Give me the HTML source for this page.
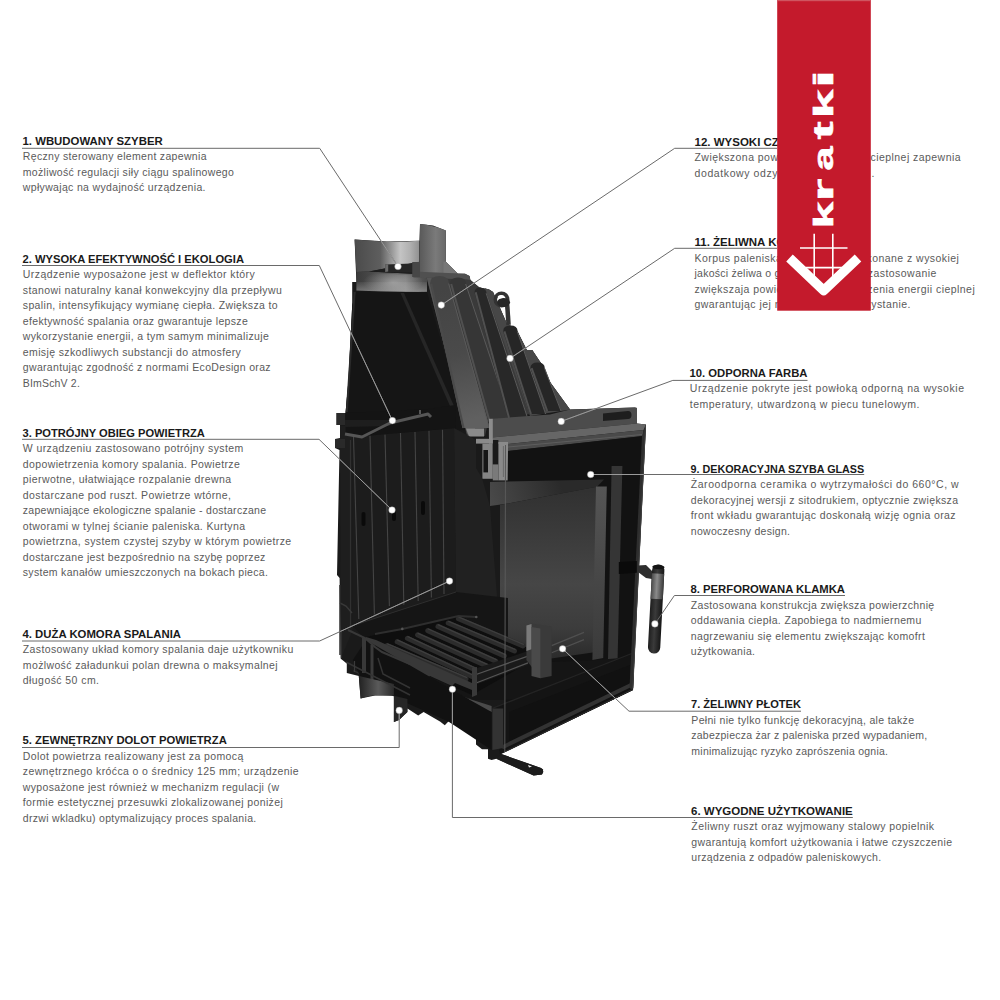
<!DOCTYPE html>
<html><head><meta charset="utf-8"><style>
html,body{margin:0;padding:0;background:#fff;width:1000px;height:1000px;overflow:hidden}
svg{display:block}
.h{font:bold 11.5px "Liberation Sans",sans-serif;fill:#1a1a1a}
.b{font:10.5px "Liberation Sans",sans-serif;fill:#5a5a5a}
.ln polyline{fill:none;stroke:#6a6a6a;stroke-width:1}
.ln2 polyline{fill:none;stroke:#9a9a9a;stroke-width:1}
.dt circle{fill:#fff;stroke:#888;stroke-width:0.4}
</style></head><body>
<svg width="1000" height="1000" viewBox="0 0 1000 1000">
<defs><linearGradient id="gCollar" x1="354" x2="420" y1="0" y2="0" gradientUnits="userSpaceOnUse"><stop offset="0" stop-color="#4a4a4a"/><stop offset="0.4" stop-color="#5e5e5e"/><stop offset="0.7" stop-color="#c4c4c4"/><stop offset="0.85" stop-color="#b0b0b0"/><stop offset="1" stop-color="#8e8e8e"/></linearGradient><linearGradient id="gBowl" x1="356" x2="427" y1="0" y2="0" gradientUnits="userSpaceOnUse"><stop offset="0" stop-color="#3a3a3a"/><stop offset="0.45" stop-color="#5a5a5a"/><stop offset="0.7" stop-color="#6e6e6e"/><stop offset="1" stop-color="#4a4a4a"/></linearGradient><radialGradient id="gBowlHi" cx="393" cy="282" r="30" gradientUnits="userSpaceOnUse" gradientTransform="translate(393 282) scale(1 0.4) translate(-393 -282)"><stop offset="0" stop-color="#fff" stop-opacity="0.35"/><stop offset="1" stop-color="#fff" stop-opacity="0"/></radialGradient><linearGradient id="gBowlRim" x1="0" x2="0" y1="280" y2="292" gradientUnits="userSpaceOnUse"><stop offset="0" stop-color="rgba(255,255,255,0)"/><stop offset="1" stop-color="rgba(255,255,255,0.3)"/></linearGradient><linearGradient id="gPlate" x1="420" x2="446" y1="0" y2="0" gradientUnits="userSpaceOnUse"><stop offset="0" stop-color="#5a5a5a"/><stop offset="0.6" stop-color="#7a7a7a"/><stop offset="1" stop-color="#686868"/></linearGradient><linearGradient id="gRibA" x1="440" x2="470" y1="290" y2="420" gradientUnits="userSpaceOnUse"><stop offset="0" stop-color="#444"/><stop offset="0.5" stop-color="#4a4a4a"/><stop offset="1" stop-color="#606060"/></linearGradient><linearGradient id="gBack" x1="0" x2="0" y1="486" y2="664" gradientUnits="userSpaceOnUse"><stop offset="0" stop-color="#303030"/><stop offset="0.55" stop-color="#464646"/><stop offset="0.8" stop-color="#3c3c3c"/><stop offset="1" stop-color="#282828"/></linearGradient><linearGradient id="gBackLo" x1="0" x2="0" y1="600" y2="664" gradientUnits="userSpaceOnUse"><stop offset="0" stop-color="#3a3a3a"/><stop offset="1" stop-color="#242424"/></linearGradient><linearGradient id="gBaffle" x1="490" x2="560" y1="506" y2="482" gradientUnits="userSpaceOnUse"><stop offset="0" stop-color="#4a4a4a"/><stop offset="1" stop-color="#2a2a2a"/></linearGradient><linearGradient id="gHandleH" x1="650" x2="662.3" y1="0" y2="0" gradientUnits="userSpaceOnUse"><stop offset="0" stop-color="#1e1e1e"/><stop offset="0.45" stop-color="#3a3a3a"/><stop offset="1" stop-color="#161616"/></linearGradient><linearGradient id="gHandleBandH" x1="650" x2="662.3" y1="0" y2="0" gradientUnits="userSpaceOnUse"><stop offset="0" stop-color="#4a4a4a"/><stop offset="0.45" stop-color="#8a8a8a"/><stop offset="1" stop-color="#3a3a3a"/></linearGradient><linearGradient id="gIntake" x1="359" x2="394" y1="0" y2="0" gradientUnits="userSpaceOnUse"><stop offset="0" stop-color="#222"/><stop offset="0.55" stop-color="#5a5a5a"/><stop offset="1" stop-color="#2a2a2a"/></linearGradient><linearGradient id="gCol1" x1="0" x2="0" y1="486" y2="660" gradientUnits="userSpaceOnUse"><stop offset="0" stop-color="#555"/><stop offset="1" stop-color="#3a3a3a"/></linearGradient><clipPath id="silclip"><path d="M354.6,239.6 L387.0,241.5 L419.4,240.8 L420.0,224.0 L433.0,225.5 L445.8,230.6 L445.8,261.8 L457.8,273.8 L465.0,273.8 L469.5,276.0 L470.4,280.0 L479.4,287.5 L489.0,289.5 L493.0,292.0 L507.0,324.0 L516.0,328.4 L526.8,350.0 L532.2,350.0 L539.4,360.8 L543.0,366.0 L550.0,382.0 L570.0,409.4 L634.8,407.6 L637.0,408.0 L637.0,423.5 L646.0,424.5 L633.0,690.0 L501.2,754.0 L541.0,768.0 L543.2,769.6 L542.0,774.4 L533.6,775.6 L496.4,758.8 L491.6,760.0 L488.0,758.8 L488.0,749.2 L482.0,749.2 L476.0,744.4 L476.0,734.8 L448.4,721.6 L444.8,725.2 L440.0,721.6 L423.6,712.0 L418.2,715.6 L407.4,708.4 L407.4,712.0 L399.0,720.0 L393.9,721.9 L393.9,695.8 L375.0,695.5 L360.6,698.5 L358.8,676.0 L346.8,673.0 L346.8,663.6 L340.8,658.8 L339.6,578.0 L337.0,575.0 L339.5,450.0 L335.0,448.0 L335.0,439.0 L340.0,438.0 L340.0,425.0 L336.5,425.0 L336.5,413.0 L345.5,413.0 L348.5,380.0 L352.2,305.0 L352.2,282.0 L356.4,282.0 Z"/></clipPath></defs>
<g id="fire"><path fill="#1a1a1a" d="M354.6,239.6 L387.0,241.5 L419.4,240.8 L420.0,224.0 L433.0,225.5 L445.8,230.6 L445.8,261.8 L457.8,273.8 L465.0,273.8 L469.5,276.0 L470.4,280.0 L479.4,287.5 L489.0,289.5 L493.0,292.0 L507.0,324.0 L516.0,328.4 L526.8,350.0 L532.2,350.0 L539.4,360.8 L543.0,366.0 L550.0,382.0 L570.0,409.4 L634.8,407.6 L637.0,408.0 L637.0,423.5 L646.0,424.5 L633.0,690.0 L501.2,754.0 L541.0,768.0 L543.2,769.6 L542.0,774.4 L533.6,775.6 L496.4,758.8 L491.6,760.0 L488.0,758.8 L488.0,749.2 L482.0,749.2 L476.0,744.4 L476.0,734.8 L448.4,721.6 L444.8,725.2 L440.0,721.6 L423.6,712.0 L418.2,715.6 L407.4,708.4 L407.4,712.0 L399.0,720.0 L393.9,721.9 L393.9,695.8 L375.0,695.5 L360.6,698.5 L358.8,676.0 L346.8,673.0 L346.8,663.6 L340.8,658.8 L339.6,578.0 L337.0,575.0 L339.5,450.0 L335.0,448.0 L335.0,439.0 L340.0,438.0 L340.0,425.0 L336.5,425.0 L336.5,413.0 L345.5,413.0 L348.5,380.0 L352.2,305.0 L352.2,282.0 L356.4,282.0 Z" />
<path fill="url(#gCollar)" d="M354.6,239.6 Q387,243 419.4,240.8 L419.4,262 L369,271.4 L356.4,272 Z"/>
<path fill="url(#gBowl)" d="M356.4,272 L369,271.4 L412.2,273.8 L427,277 L427,291.8 Q390,292.5 356.4,290.6 Z"/>
<path fill="url(#gBowlRim)" d="M356.4,282 L427,282 L427,291.8 Q390,292.5 356.4,290.6 Z"/>
<path fill="url(#gBowlHi)" d="M356.4,272 L427,276 L427,291.8 Q390,294 356.4,290.6 Z"/>
<path fill="#1e1e1e" d="M369.0,271.4 L419.4,261.8 L419.4,271.0 L412.2,273.8 Z" />
<path fill="#262626" d="M385.2,264.5 L412.0,263.5 L412.0,272.6 L385.2,272.0 Z" />
<path fill="#6a6a6a" d="M385.2,264.5 L388.2,264.2 L388.2,271.6 L385.2,272.0 Z" />
<path fill="url(#gPlate)" d="M420,224 Q433,225 445.8,230.6 L445.8,261.8 L458,273.8 L420,273.8 Z"/>
<path fill="#777" d="M443.4,261.8 L445.8,261.8 L457.8,273.8 L443.4,273.8 Z" />
<path fill="#505050" d="M413.4,271.4 L465.0,273.8 L469.5,276.0 L470.4,280.0 L413.4,277.4 Z" />
<path fill="#474747" d="M412.2,262.0 L420.0,262.0 L420.0,277.0 L412.2,277.0 Z" />
<path fill="#151515" d="M356.4,291.5 L427.0,292.0 L458.0,400.0 L466.0,430.0 L345.5,434.0 L345.5,413.0 L348.5,380.0 L352.2,305.0 Z" />
<path fill="#262626" d="M400.5,293.0 L404.0,293.0 L454.0,406.0 L450.0,406.0 Z" />
<line x1="354.6" y1="292.0" x2="346.8" y2="412.0" stroke="#2a2a2a" stroke-width="2" />
<path fill="#3a3a3a" d="M426.6,277.4 L470.4,280.0 L479.4,287.5 L489.0,289.5 L493.0,292.0 L507.0,324.0 L516.0,328.4 L526.8,350.0 L532.2,350.0 L539.4,360.8 L543.0,366.0 L550.0,382.0 L570.0,409.4 L488.8,419.0 L485.0,436.0 L467.0,436.0 L458.0,400.0 Z" />
<path fill="#474747" d="M484.6,288.0 L489.0,289.5 L493.0,292.0 L507.0,324.0 L516.0,328.4 L526.8,350.0 L532.2,350.0 L539.4,360.8 L543.0,366.0 L550.0,382.0 L570.0,409.4 L530.0,416.0 L484.6,288.0 Z" />
<path fill="#555" d="M426.6,277.4 L431.5,277.6 L476.0,432.0 L467.0,434.0 L458.0,400.0 Z" />
<path fill="url(#gRibA)" d="M430.0,283.6 Q430.0,276.0 439.5,276.0 Q449.0,276.0 449.0,283.6 L489.6,428.0 L462.4,428.0 Z"/><line x1="431.2" y1="283.6" x2="463.6" y2="428.0" stroke="#4a4a4a" stroke-width="2" /><line x1="448.7" y1="283.6" x2="489.3" y2="428.0" stroke="#5a5a5a" stroke-width="1" />
<path fill="#363636" d="M450.0,284.0 Q450.0,277.6 458.0,277.6 Q466.0,277.6 466.0,284.0 L512.2,422.0 L488.6,422.0 Z"/><line x1="451.2" y1="284.0" x2="489.8" y2="422.0" stroke="#505050" stroke-width="2" /><line x1="465.7" y1="284.0" x2="511.9" y2="422.0" stroke="#5a5a5a" stroke-width="1" />
<path fill="#282828" d="M474.5,292.3 Q474.5,287.5 480.5,287.5 Q486.5,288.5 486.5,293.3 L527.9,418.0 L507.8,418.0 Z"/><line x1="475.7" y1="292.3" x2="509.0" y2="418.0" stroke="#505050" stroke-width="2" /><line x1="486.2" y1="293.3" x2="527.6" y2="418.0" stroke="#5a5a5a" stroke-width="1" />
<path fill="#262626" d="M503.2,331.4 Q503.2,325.6 510.4,325.6 Q517.6,325.6 517.6,331.4 L545.9,414.0 L529.7,414.0 Z"/><line x1="504.4" y1="331.4" x2="530.9" y2="414.0" stroke="#505050" stroke-width="2" /><line x1="517.3" y1="331.4" x2="545.6" y2="414.0" stroke="#5a5a5a" stroke-width="1" />
<path fill="#262626" d="M530.4,368.2 Q530.4,362.4 537.6,362.4 Q544.8,362.4 544.8,368.2 L561.3,411.0 L546.0,411.0 Z"/><line x1="531.6" y1="368.2" x2="547.2" y2="411.0" stroke="#505050" stroke-width="2" /><line x1="544.5" y1="368.2" x2="561.0" y2="411.0" stroke="#5a5a5a" stroke-width="1" />
<circle cx="501.5" cy="299.5" r="6.2" fill="none" stroke="#333" stroke-width="3.6"/>
<path d="M507.2,305 L508.6,325" stroke="#333" stroke-width="4.5"/>
<ellipse cx="503.6" cy="302.5" rx="6.5" ry="4.6" fill="#262626"/>
<ellipse cx="500.5" cy="296.8" rx="2.8" ry="1.6" fill="#fff"/>
<path fill="#8a8a8a" d="M466.0,428.5 L484.0,428.5 L484.0,436.4 L469.0,436.4 Z" />
<path fill="#4c4c4c" d="M488.8,419.0 L550.0,414.4 L570.0,409.4 L634.8,407.6 L637.0,408.0 L637.0,423.5 L492.0,437.5 L488.8,437.5 Z" />
<path fill="#1e1e1e" d="M603,413.5 L628,411 Q631.5,411 631.5,415 Q631.5,419 628,419 L603,421 Z"/>
<path fill="#666" d="M492.0,437.5 L637.0,423.5 L646.0,424.5 L643.5,430.0 L508.0,444.0 L494.0,444.0 Z" />
<path fill="#4a4a4a" d="M508.0,444.0 L643.5,430.0 L643.0,436.0 L508.0,451.0 Z" />
<line x1="508.0" y1="447.0" x2="642.0" y2="434.5" stroke="#5e5e5e" stroke-width="1.2" />
<path fill="#8a8a8a" d="M476.0,438.8 L492.8,438.8 L492.8,443.6 L476.0,443.6 Z" />
<path fill="#858585" d="M482.4,443.6 L492.8,443.6 L492.8,478.8 L482.4,478.8 Z" />
<path fill="#161616" d="M483.4,450.0 L488.0,450.0 L488.0,472.4 L483.4,472.4 Z" />
<path fill="#1a1a1a" d="M492.8,440.0 L498.4,440.0 L498.4,464.4 L492.8,464.4 Z" />
<path fill="#8a8a8a" d="M498.4,442.0 L508.0,442.0 L508.0,480.4 L498.4,480.4 Z" />
<path fill="#7a7a7a" d="M492.8,464.4 L498.4,464.4 L498.4,480.4 L492.8,480.4 Z" />
<line x1="503.4" y1="446.0" x2="503.4" y2="477.0" stroke="#6a6a6a" stroke-width="1" />
<path fill="#8c8c8c" d="M489.0,418.8 L492.8,418.8 L492.8,443.6 L489.0,443.6 Z" />
<path fill="#121212" d="M508.0,451.0 L643.0,436.0 L633.0,690.0 L500.0,754.0 L505.0,700.0 Z" />
<path fill="url(#gBaffle)" d="M490.0,482.0 L604.0,479.6 L597.0,486.8 L508.0,503.6 L490.0,506.0 Z" />
<path fill="url(#gBack)" d="M500.0,505.0 L597.0,486.8 L596.0,652.0 L500.0,666.0 Z" />
<path fill="url(#gCol1)" d="M596.0,486.4 L606.8,486.4 L603.2,658.0 L592.4,660.0 Z" />
<path fill="#353535" d="M611.6,466.0 L622.4,466.0 L617.6,658.8 L608.0,660.0 Z" />
<path fill="#212121" d="M454.0,428.0 L476.0,440.0 L476.0,468.0 L482.0,478.0 L490.0,506.0 L505.0,700.0 L470.0,680.0 L456.0,600.0 Z" />
<path fill="#1e1e1e" d="M340.0,426.0 L352.8,426.0 L352.8,630.0 L340.8,658.8 Z" />
<line x1="350.4" y1="440.0" x2="350.4" y2="628.0" stroke="#333" stroke-width="1" />
<path fill="#1c1c1c" d="M352.8,437.0 L454.0,428.0 L456.0,592.0 L352.8,626.0 Z" />
<line x1="353.5" y1="436.9" x2="358.8" y2="619.0" stroke="#444" stroke-width="1.1" />
<line x1="370.0" y1="435.6" x2="374.4" y2="614.4" stroke="#444" stroke-width="1.1" />
<line x1="385.0" y1="434.4" x2="389.4" y2="606.0" stroke="#444" stroke-width="1.1" />
<line x1="400.5" y1="433.1" x2="403.8" y2="604.8" stroke="#444" stroke-width="1.1" />
<line x1="415.0" y1="432.0" x2="418.2" y2="601.0" stroke="#444" stroke-width="1.1" />
<line x1="429.0" y1="430.8" x2="431.4" y2="597.6" stroke="#444" stroke-width="1.1" />
<line x1="442.5" y1="429.8" x2="444.0" y2="594.0" stroke="#444" stroke-width="1.1" />
<rect x="361.5" y="512.0" width="4" height="14" rx="2" fill="#0a0a0a"/>
<rect x="392" y="511.0" width="4" height="10" rx="2" fill="#0a0a0a"/>
<rect x="421" y="501.0" width="4" height="14" rx="2" fill="#0a0a0a"/>
<path fill="#141414" d="M345.5,413.0 L428.0,409.0 L455.0,405.0 L456.0,428.0 L352.8,437.0 L345.5,434.0 Z" />
<path fill="#1e1e1e" d="M345.0,420.0 L390.0,420.0 L390.0,426.0 L345.0,427.0 Z" />
<polyline fill="none" stroke="#565656" stroke-width="3" points="345.0,434.0 362.0,437.0 390.0,423.0 428.0,414.0 431.0,417.0" stroke-linejoin="round"/>
<line x1="420.0" y1="410.0" x2="420.0" y2="414.0" stroke="#565656" stroke-width="2" />
<path fill="#2a2a2a" d="M336.5,413.0 L345.0,413.0 L345.0,425.0 L336.5,425.0 Z" />
<path fill="#2a2a2a" d="M335.0,439.0 L345.0,439.0 L345.0,448.0 L335.0,448.0 Z" />
<path fill="#151515" d="M352.8,626.0 L456.0,592.0 L508.0,598.0 L508.0,664.0 L596.0,660.0 L634.0,657.0 L633.0,690.0 L505.0,700.0 L470.0,700.0 L366.0,640.0 Z" />
<line x1="352.8" y1="625.5" x2="456.0" y2="592.0" stroke="#2e2e2e" stroke-width="1" />
<path fill="#0e0e0e" d="M366.0,637.0 L458.4,615.5 L528.0,648.0 L528.0,663.0 L472.0,695.0 L366.0,648.0 Z" />
<line x1="458.4" y1="618.7" x2="523.0" y2="645.9" stroke="#2c2c2c" stroke-width="5" stroke-linecap="round"/>
<line x1="458.9" y1="617.1" x2="523.5" y2="644.3" stroke="#3e3e3e" stroke-width="1.3" stroke-linecap="round"/>
<line x1="448.2" y1="623.0" x2="514.5" y2="651.0" stroke="#2c2c2c" stroke-width="5" stroke-linecap="round"/>
<line x1="448.7" y1="621.4" x2="515.0" y2="649.4" stroke="#3e3e3e" stroke-width="1.3" stroke-linecap="round"/>
<line x1="438.0" y1="626.4" x2="504.3" y2="656.0" stroke="#2c2c2c" stroke-width="5" stroke-linecap="round"/>
<line x1="438.5" y1="624.8" x2="504.8" y2="654.4" stroke="#3e3e3e" stroke-width="1.3" stroke-linecap="round"/>
<line x1="427.8" y1="630.6" x2="495.8" y2="661.2" stroke="#2c2c2c" stroke-width="5" stroke-linecap="round"/>
<line x1="428.3" y1="629.0" x2="496.3" y2="659.6" stroke="#3e3e3e" stroke-width="1.3" stroke-linecap="round"/>
<line x1="417.6" y1="634.9" x2="487.3" y2="666.3" stroke="#2c2c2c" stroke-width="5" stroke-linecap="round"/>
<line x1="418.1" y1="633.3" x2="487.8" y2="664.7" stroke="#3e3e3e" stroke-width="1.3" stroke-linecap="round"/>
<line x1="407.4" y1="638.3" x2="478.8" y2="671.4" stroke="#2c2c2c" stroke-width="5" stroke-linecap="round"/>
<line x1="407.9" y1="636.7" x2="479.3" y2="669.8" stroke="#3e3e3e" stroke-width="1.3" stroke-linecap="round"/>
<line x1="397.2" y1="641.7" x2="472.0" y2="676.5" stroke="#2c2c2c" stroke-width="5" stroke-linecap="round"/>
<line x1="397.7" y1="640.1" x2="472.5" y2="674.9" stroke="#3e3e3e" stroke-width="1.3" stroke-linecap="round"/>
<line x1="387.0" y1="645.5" x2="466.0" y2="679.0" stroke="#2c2c2c" stroke-width="5" stroke-linecap="round"/>
<line x1="387.5" y1="643.9" x2="466.5" y2="677.4" stroke="#3e3e3e" stroke-width="1.3" stroke-linecap="round"/>
<polyline fill="none" stroke="#2e2e2e" stroke-width="2" points="375.0,634.0 402.3,628.9 458.4,616.0 476.3,617.0" />
<circle cx="402.3" cy="628.9" r="1.3" fill="#555"/><circle cx="476.3" cy="617" r="1.3" fill="#555"/>
<path fill="#383838" d="M366.0,637.0 L376.0,640.0 L472.0,683.0 L472.0,690.0 L455.0,683.0 L452.0,686.0 L430.0,676.0 L427.0,678.0 L405.0,667.0 L402.0,669.0 L384.0,660.0 L366.0,648.0 Z" />
<polyline fill="none" stroke="#2c2c2c" stroke-width="1.2" points="382.2,656.2 389.4,676.0 470.4,699.4" />
<line x1="353.4" y1="670.6" x2="445.2" y2="713.8" stroke="#2e2e2e" stroke-width="1.5" />
<path fill="#4a4a4a" d="M468.8,698.8 L491.6,706.0 L491.6,712.0 L468.8,705.0 Z" />
<path fill="#1a1a1a" d="M472.0,669.7 L528.0,651.0 L528.0,665.0 L472.0,686.0 Z" />
<line x1="475.4" y1="674.8" x2="528.0" y2="656.1" stroke="#555" stroke-width="1.2" />
<line x1="475.4" y1="683.3" x2="528.0" y2="662.9" stroke="#555" stroke-width="1.2" />
<line x1="551.6" y1="645.6" x2="584.0" y2="632.4" stroke="#505050" stroke-width="1.2" />
<line x1="551.6" y1="652.8" x2="584.0" y2="639.6" stroke="#505050" stroke-width="1.2" />
<path fill="#3a3a3a" d="M472.0,668.0 L477.0,667.0 L477.0,695.0 L472.0,697.0 Z" />
<path fill="#3a3a3a" d="M526.4,625.5 L532.0,623.5 L551.6,626.4 L551.6,676.0 L540.4,678.2 L526.4,660.0 Z" />
<path fill="#7a7a7a" d="M526.4,625.5 L531.5,624.0 L531.5,649.3 L526.4,651.0 Z" />
<path fill="#4a4a4a" d="M531.5,627.0 L540.4,628.4 L540.4,678.2 L531.5,676.0 Z" />
<path fill="#111" d="M366.0,640.0 L470.0,700.0 L491.6,712.0 L491.6,750.0 L448.4,721.6 L400.0,700.0 L360.0,676.0 L352.8,660.0 Z" />
<line x1="372.0" y1="645.0" x2="372.0" y2="690.0" stroke="#3a3a3a" stroke-width="3" />
<path fill="#141414" d="M492.4,708.4 L633.0,653.0 L633.0,690.0 L500.0,754.0 Z" />
<path fill="#111" d="M509.0,712.0 L630.0,665.0 L630.0,690.0 L509.0,745.6 Z" />
<line x1="492.4" y1="708.4" x2="633.0" y2="653.0" stroke="#242424" stroke-width="1.2" />
<line x1="502.0" y1="747.5" x2="632.0" y2="684.5" stroke="#333" stroke-width="4" />
<line x1="504.0" y1="752.0" x2="632.0" y2="689.8" stroke="#2a2a2a" stroke-width="1.2" />
<path fill="#333" d="M492.4,708.4 L503.2,708.4 L503.2,748.0 L492.4,750.0 Z" />
<path fill="#2e2e2e" d="M642.0,436.0 L646.0,424.5 L633.0,690.0 L629.5,688.0 Z" />
<line x1="645.5" y1="426.0" x2="632.8" y2="688.0" stroke="#3e3e3e" stroke-width="1" />
<path fill="#1c1c1c" d="M501.2,754 L541,768 Q545,771 542,774.4 L533.6,775.6 L496.4,758.8 Z"/>
<path fill="#eee" d="M528.0,765.0 L532.0,766.5 L529.0,767.5 Z" />
<path fill="url(#gIntake)" d="M358.8,676 L393.9,684 L393.9,695.8 Q375,693.5 360.6,698.5 Z"/>
<path fill="#262626" d="M393.9,695.8 L407.4,699.0 L407.4,712.0 L399.0,720.0 L393.9,721.9 Z" />
<polyline fill="none" stroke="#383838" stroke-width="2" points="348.0,630.0 365.0,638.0 375.0,647.0 382.0,652.0 410.0,664.0" />
<path fill="#383838" d="M362.0,638.0 L366.0,638.0 L366.0,673.0 L362.0,673.0 Z" />
<line x1="341.5" y1="632.0" x2="341.5" y2="658.0" stroke="#2e2e2e" stroke-width="1.2" />
<polyline fill="none" stroke="#333" stroke-width="1.5" points="378.0,658.0 383.0,674.0 410.0,688.0" />
<line x1="346.0" y1="662.0" x2="410.0" y2="695.0" stroke="#333" stroke-width="1.5" />
<line x1="354.5" y1="661.0" x2="354.5" y2="672.0" stroke="#3a3a3a" stroke-width="1.2" />
<polyline fill="none" stroke="#383838" stroke-width="1.5" points="340.0,603.0 346.0,606.0 352.0,613.0" />
<line x1="340.0" y1="585.0" x2="340.0" y2="655.0" stroke="#2c2c2c" stroke-width="1.5" />
<line x1="505.5" y1="445.0" x2="504.8" y2="752.0" stroke="#5a5a5a" stroke-width="1" />
<path fill="#2e2e2e" d="M638.0,565.4 L646.0,565.0 L652.0,571.0 L652.0,579.0 L646.0,578.0 L638.0,572.0 Z" />
<g transform="rotate(3.06 656.1 609)"><rect x="650" y="564.5" width="12.3" height="89" rx="6" fill="url(#gHandleH)"/><rect x="650" y="573.5" width="12.3" height="25.5" fill="url(#gHandleBandH)"/><ellipse cx="656.15" cy="567" rx="6.1" ry="2.2" fill="#141414"/></g>
<path fill="#0a0a0a" d="M618.8,562.0 L636.8,561.0 L636.8,572.8 L618.8,574.0 Z" /></g>
<g><text class="h" x="22.5" y="144.7" textLength="140.2" lengthAdjust="spacingAndGlyphs">1. WBUDOWANY SZYBER</text><text class="b" x="22.8" y="160.2" textLength="183.7" lengthAdjust="spacing">Ręczny sterowany element zapewnia</text><text class="b" x="22.8" y="175.7" textLength="211.0" lengthAdjust="spacing">możliwość regulacji siły ciągu spalinowego</text><text class="b" x="22.8" y="191.2" textLength="182.7" lengthAdjust="spacing">wpływając na wydajność urządzenia.</text><text class="h" x="22.5" y="262.7" textLength="221.5" lengthAdjust="spacingAndGlyphs">2. WYSOKA EFEKTYWNOŚĆ I EKOLOGIA</text><text class="b" x="22.8" y="278.2" textLength="232.0" lengthAdjust="spacing">Urządzenie wyposażone jest w deflektor który</text><text class="b" x="22.8" y="293.7" textLength="259.0" lengthAdjust="spacing">stanowi naturalny kanał konwekcyjny dla przepływu</text><text class="b" x="22.8" y="309.2" textLength="254.8" lengthAdjust="spacing">spalin, intensyfikujący wymianę ciepła. Zwiększa to</text><text class="b" x="22.8" y="324.7" textLength="225.0" lengthAdjust="spacing">efektywność spalania oraz gwarantuje lepsze</text><text class="b" x="22.8" y="340.2" textLength="246.0" lengthAdjust="spacing">wykorzystanie energii, a tym samym minimalizuje</text><text class="b" x="22.8" y="355.7" textLength="218.0" lengthAdjust="spacing">emisję szkodliwych substancji do atmosfery</text><text class="b" x="22.8" y="371.2" textLength="247.8" lengthAdjust="spacing">gwarantując zgodność z normami EcoDesign oraz</text><text class="b" x="22.8" y="386.7" textLength="57.0" lengthAdjust="spacing">BImSchV 2.</text><text class="h" x="22.5" y="436.5" textLength="182.3" lengthAdjust="spacingAndGlyphs">3. POTRÓJNY OBIEG POWIETRZA</text><text class="b" x="22.8" y="452.0" textLength="220.5" lengthAdjust="spacing">W urządzeniu zastosowano potrójny system</text><text class="b" x="22.8" y="467.5" textLength="217.0" lengthAdjust="spacing">dopowietrzenia komory spalania. Powietrze</text><text class="b" x="22.8" y="483.0" textLength="208.2" lengthAdjust="spacing">pierwotne, ułatwiające rozpalanie drewna</text><text class="b" x="22.8" y="498.5" textLength="208.2" lengthAdjust="spacing">dostarczane pod ruszt. Powietrze wtórne,</text><text class="b" x="22.8" y="514.0" textLength="243.2" lengthAdjust="spacing">zapewniające ekologiczne spalanie - dostarczane</text><text class="b" x="22.8" y="529.5" textLength="222.2" lengthAdjust="spacing">otworami w tylnej ścianie paleniska. Kurtyna</text><text class="b" x="22.8" y="545.0" textLength="268.4" lengthAdjust="spacing">powietrzna, system czystej szyby w którym powietrze</text><text class="b" x="22.8" y="560.5" textLength="242.5" lengthAdjust="spacing">dostarczane jest bezpośrednio na szybę poprzez</text><text class="b" x="22.8" y="576.0" textLength="245.0" lengthAdjust="spacing">system kanałów umieszczonych na bokach pieca.</text><text class="h" x="22.5" y="637.5" textLength="158.5" lengthAdjust="spacingAndGlyphs">4. DUŻA KOMORA SPALANIA</text><text class="b" x="22.8" y="653.0" textLength="270.5" lengthAdjust="spacing">Zastosowany układ komory spalania daje użytkowniku</text><text class="b" x="22.8" y="668.5" textLength="254.8" lengthAdjust="spacing">możlwość załadunkui polan drewna o maksymalnej</text><text class="b" x="22.8" y="684.0" textLength="76.2" lengthAdjust="spacing">długość 50 cm.</text><text class="h" x="22.5" y="744" textLength="204.3" lengthAdjust="spacingAndGlyphs">5. ZEWNĘTRZNY DOLOT POWIETRZA</text><text class="b" x="22.8" y="759.5" textLength="220.5" lengthAdjust="spacing">Dolot powietrza realizowany jest za pomocą</text><text class="b" x="22.8" y="775.0" textLength="275.8" lengthAdjust="spacing">zewnętrznego króćca o o średnicy 125 mm; urządzenie</text><text class="b" x="22.8" y="790.5" textLength="256.2" lengthAdjust="spacing">wyposażone jest również w mechanizm regulacji (w</text><text class="b" x="22.8" y="806.0" textLength="260.0" lengthAdjust="spacing">formie estetycznej przesuwki zlokalizowanej poniżej</text><text class="b" x="22.8" y="821.5" textLength="233.4" lengthAdjust="spacing">drzwi wkladku) optymalizujący proces spalania.</text><text class="h" x="689.5" y="376.5" textLength="118.0" lengthAdjust="spacingAndGlyphs">10. ODPORNA FARBA</text><text class="b" x="689.8" y="392.0" textLength="274.2" lengthAdjust="spacing">Urządzenie pokryte jest powłoką odporną na wysokie</text><text class="b" x="689.8" y="407.5" textLength="229.7" lengthAdjust="spacing">temperatury, utwardzoną w piecu tunelowym.</text><text class="h" x="690.5" y="472.5" textLength="173.7" lengthAdjust="spacingAndGlyphs">9. DEKORACYJNA SZYBA GLASS</text><text class="b" x="690.8" y="488.0" textLength="267.9" lengthAdjust="spacing">Żaroodporna ceramika o wytrzymałości do 660°C, w</text><text class="b" x="690.8" y="503.5" textLength="267.2" lengthAdjust="spacing">dekoracyjnej wersji z sitodrukiem, optycznie zwiększa</text><text class="b" x="690.8" y="519.0" textLength="264.8" lengthAdjust="spacing">front wkładu gwarantując doskonałą wizję ognia oraz</text><text class="b" x="690.8" y="534.5" textLength="99.2" lengthAdjust="spacing">nowoczesny design.</text><text class="h" x="690.5" y="593" textLength="154.5" lengthAdjust="spacingAndGlyphs">8. PERFOROWANA KLAMKA</text><text class="b" x="690.8" y="608.5" textLength="243.4" lengthAdjust="spacing">Zastosowana konstrukcja zwiększa powierzchnię</text><text class="b" x="690.8" y="624.0" textLength="230.5" lengthAdjust="spacing">oddawania ciepła. Zapobiega to nadmiernemu</text><text class="b" x="690.8" y="639.5" textLength="234.0" lengthAdjust="spacing">nagrzewaniu się elementu zwiększając komofrt</text><text class="b" x="690.8" y="655.0" textLength="64.2" lengthAdjust="spacing">użytkowania.</text><text class="h" x="691" y="708" textLength="110.0" lengthAdjust="spacingAndGlyphs">7. ŻELIWNY PŁOTEK</text><text class="b" x="691.3" y="723.5" textLength="222.7" lengthAdjust="spacing">Pełni nie tylko funkcję dekoracyjną, ale także</text><text class="b" x="691.3" y="739.0" textLength="235.9" lengthAdjust="spacing">zabezpiecza żar z paleniska przed wypadaniem,</text><text class="b" x="691.3" y="754.5" textLength="196.7" lengthAdjust="spacing">minimalizując ryzyko zaprószenia ognia.</text><text class="h" x="691" y="814.5" textLength="161.8" lengthAdjust="spacingAndGlyphs">6. WYGODNE UŻYTKOWANIE</text><text class="b" x="691.3" y="830.0" textLength="242.7" lengthAdjust="spacing">Żeliwny ruszt oraz wyjmowany stalowy popielnik</text><text class="b" x="691.3" y="845.5" textLength="260.7" lengthAdjust="spacing">gwarantują komfort użytkowania i łatwe czyszczenie</text><text class="b" x="691.3" y="861.0" textLength="189.9" lengthAdjust="spacing">urządzenia z odpadów paleniskowych.</text><text class="h" x="694.5" y="145.5" letter-spacing="0">12. WYSOKI CZYNNIK</text><text class="b" x="694.5" y="161" letter-spacing="0.45">Zwiększona powierzchnia</text><text class="b" x="961" y="161" text-anchor="end" letter-spacing="0.45">cieplnej zapewnia</text><text class="b" x="694.5" y="176.5" letter-spacing="0.6">dodatkowy odzysk ciepła</text><text class="b" x="871.5" y="176.5">.</text><text class="h" x="694.5" y="246" letter-spacing="0">11. ŻELIWNA KONSTRUKCJA</text><text class="b" x="694.5" y="261.5" letter-spacing="0.45">Korpus paleniska wykonane</text><text class="b" x="959.4" y="261.5" text-anchor="end" letter-spacing="0.45">konane z wysokiej</text><text class="b" x="694.5" y="277.0" letter-spacing="0.25">jakości żeliwa o grubości</text><text class="b" x="936.8" y="277.0" text-anchor="end" letter-spacing="0.45">zastosowanie</text><text class="b" x="694.5" y="292.5" letter-spacing="0.45">zwiększaja powierzchnię</text><text class="b" x="975.2" y="292.5" text-anchor="end" letter-spacing="0.45">zenia energii cieplnej</text><text class="b" x="694.5" y="308.0" letter-spacing="0.45">gwarantując jej najlepsze</text><text class="b" x="911" y="308.0" text-anchor="end" letter-spacing="0.45">zystanie.</text></g>
<g class="ln"><polyline points="22,148.3 319.7,148.3 398,266.5"/><polyline points="22,265.5 319.3,265.5 392.4,420.6"/><polyline points="22,439.3 319,439.3 392,510"/><polyline points="22,641 319.6,641 449.5,581.1"/><polyline points="22,747.5 399.2,747.5 399.2,710.4"/><polyline points="852.8,817.5 452.4,817.5 452.4,689.3"/><polyline points="801,711.2 629,711.2 562.6,648.8"/><polyline points="845,595.5 674.4,595.5 654.9,623.9"/><polyline points="864.2,474.5 590.7,474.5"/><polyline points="807.5,380.4 672.8,380.4 561.2,421.4"/><polyline points="777,248.3 674.7,248.3 510,358.4"/><polyline points="777,148.3 674.7,148.3 441.3,305.1"/></g>
<g class="ln2" clip-path="url(#silclip)"><polyline points="22,148.3 319.7,148.3 398,266.5"/><polyline points="22,265.5 319.3,265.5 392.4,420.6"/><polyline points="22,439.3 319,439.3 392,510"/><polyline points="22,641 319.6,641 449.5,581.1"/><polyline points="22,747.5 399.2,747.5 399.2,710.4"/><polyline points="852.8,817.5 452.4,817.5 452.4,689.3"/><polyline points="801,711.2 629,711.2 562.6,648.8"/><polyline points="845,595.5 674.4,595.5 654.9,623.9"/><polyline points="864.2,474.5 590.7,474.5"/><polyline points="807.5,380.4 672.8,380.4 561.2,421.4"/><polyline points="777,248.3 674.7,248.3 510,358.4"/><polyline points="777,148.3 674.7,148.3 441.3,305.1"/></g>
<g class="dt"><circle cx="398" cy="266.5" r="3.3"/><circle cx="392.4" cy="420.6" r="3.3"/><circle cx="392" cy="510" r="3.3"/><circle cx="449.5" cy="581.1" r="3.3"/><circle cx="399.2" cy="710.4" r="3.3"/><circle cx="452.4" cy="689.3" r="3.3"/><circle cx="562.6" cy="648.8" r="3.3"/><circle cx="654.9" cy="623.9" r="3.3"/><circle cx="590.7" cy="474.5" r="3.3"/><circle cx="561.2" cy="421.4" r="3.3"/><circle cx="510" cy="358.4" r="3.3"/><circle cx="441.3" cy="305.1" r="3.3"/></g>

<rect x="777.2" y="0" width="93.6" height="310.7" fill="#c41a2c"/>
<rect x="777.2" y="0" width="93.6" height="1.2" fill="#cf5560"/>
<text x="0" y="0" transform="translate(833.4,228.33) rotate(-90) scale(1.667,1)" style="font:bold 28.5px 'Liberation Sans',sans-serif;fill:#fff;stroke:#fff;stroke-width:0.6">k</text><text x="0" y="0" transform="translate(833.4,201.16) rotate(-90) scale(2.035,1)" style="font:bold 28.5px 'Liberation Sans',sans-serif;fill:#fff;stroke:#fff;stroke-width:0.6">r</text><text x="0" y="0" transform="translate(833.4,170.49) rotate(-90) scale(1.509,1)" style="font:bold 28.5px 'Liberation Sans',sans-serif;fill:#fff;stroke:#fff;stroke-width:0.6">a</text><text x="0" y="0" transform="translate(833.4,139.14) rotate(-90) scale(1.879,1)" style="font:bold 28.5px 'Liberation Sans',sans-serif;fill:#fff;stroke:#fff;stroke-width:0.6">t</text><text x="0" y="0" transform="translate(833.4,117.89) rotate(-90) scale(1.798,1)" style="font:bold 28.5px 'Liberation Sans',sans-serif;fill:#fff;stroke:#fff;stroke-width:0.6">k</text><text x="0" y="0" transform="translate(833.4,88.35) rotate(-90) scale(2.331,1)" style="font:bold 28.5px 'Liberation Sans',sans-serif;fill:#fff;stroke:#fff;stroke-width:0.6">i</text>
<g stroke="#fff" fill="none">
<path d="M789.5,258 L823.7,290.5 L858,258" stroke-width="9.5" stroke-linejoin="round"/>
<line x1="814.2" y1="233.7" x2="814.2" y2="283" stroke-width="1.6"/>
<line x1="832.8" y1="233.7" x2="832.8" y2="283" stroke-width="1.6"/>
<line x1="800" y1="248" x2="847.5" y2="248" stroke-width="1.6"/>
<line x1="805.5" y1="267.6" x2="842.6" y2="267.6" stroke-width="1.6"/>
</g>

</svg>
</body></html>
